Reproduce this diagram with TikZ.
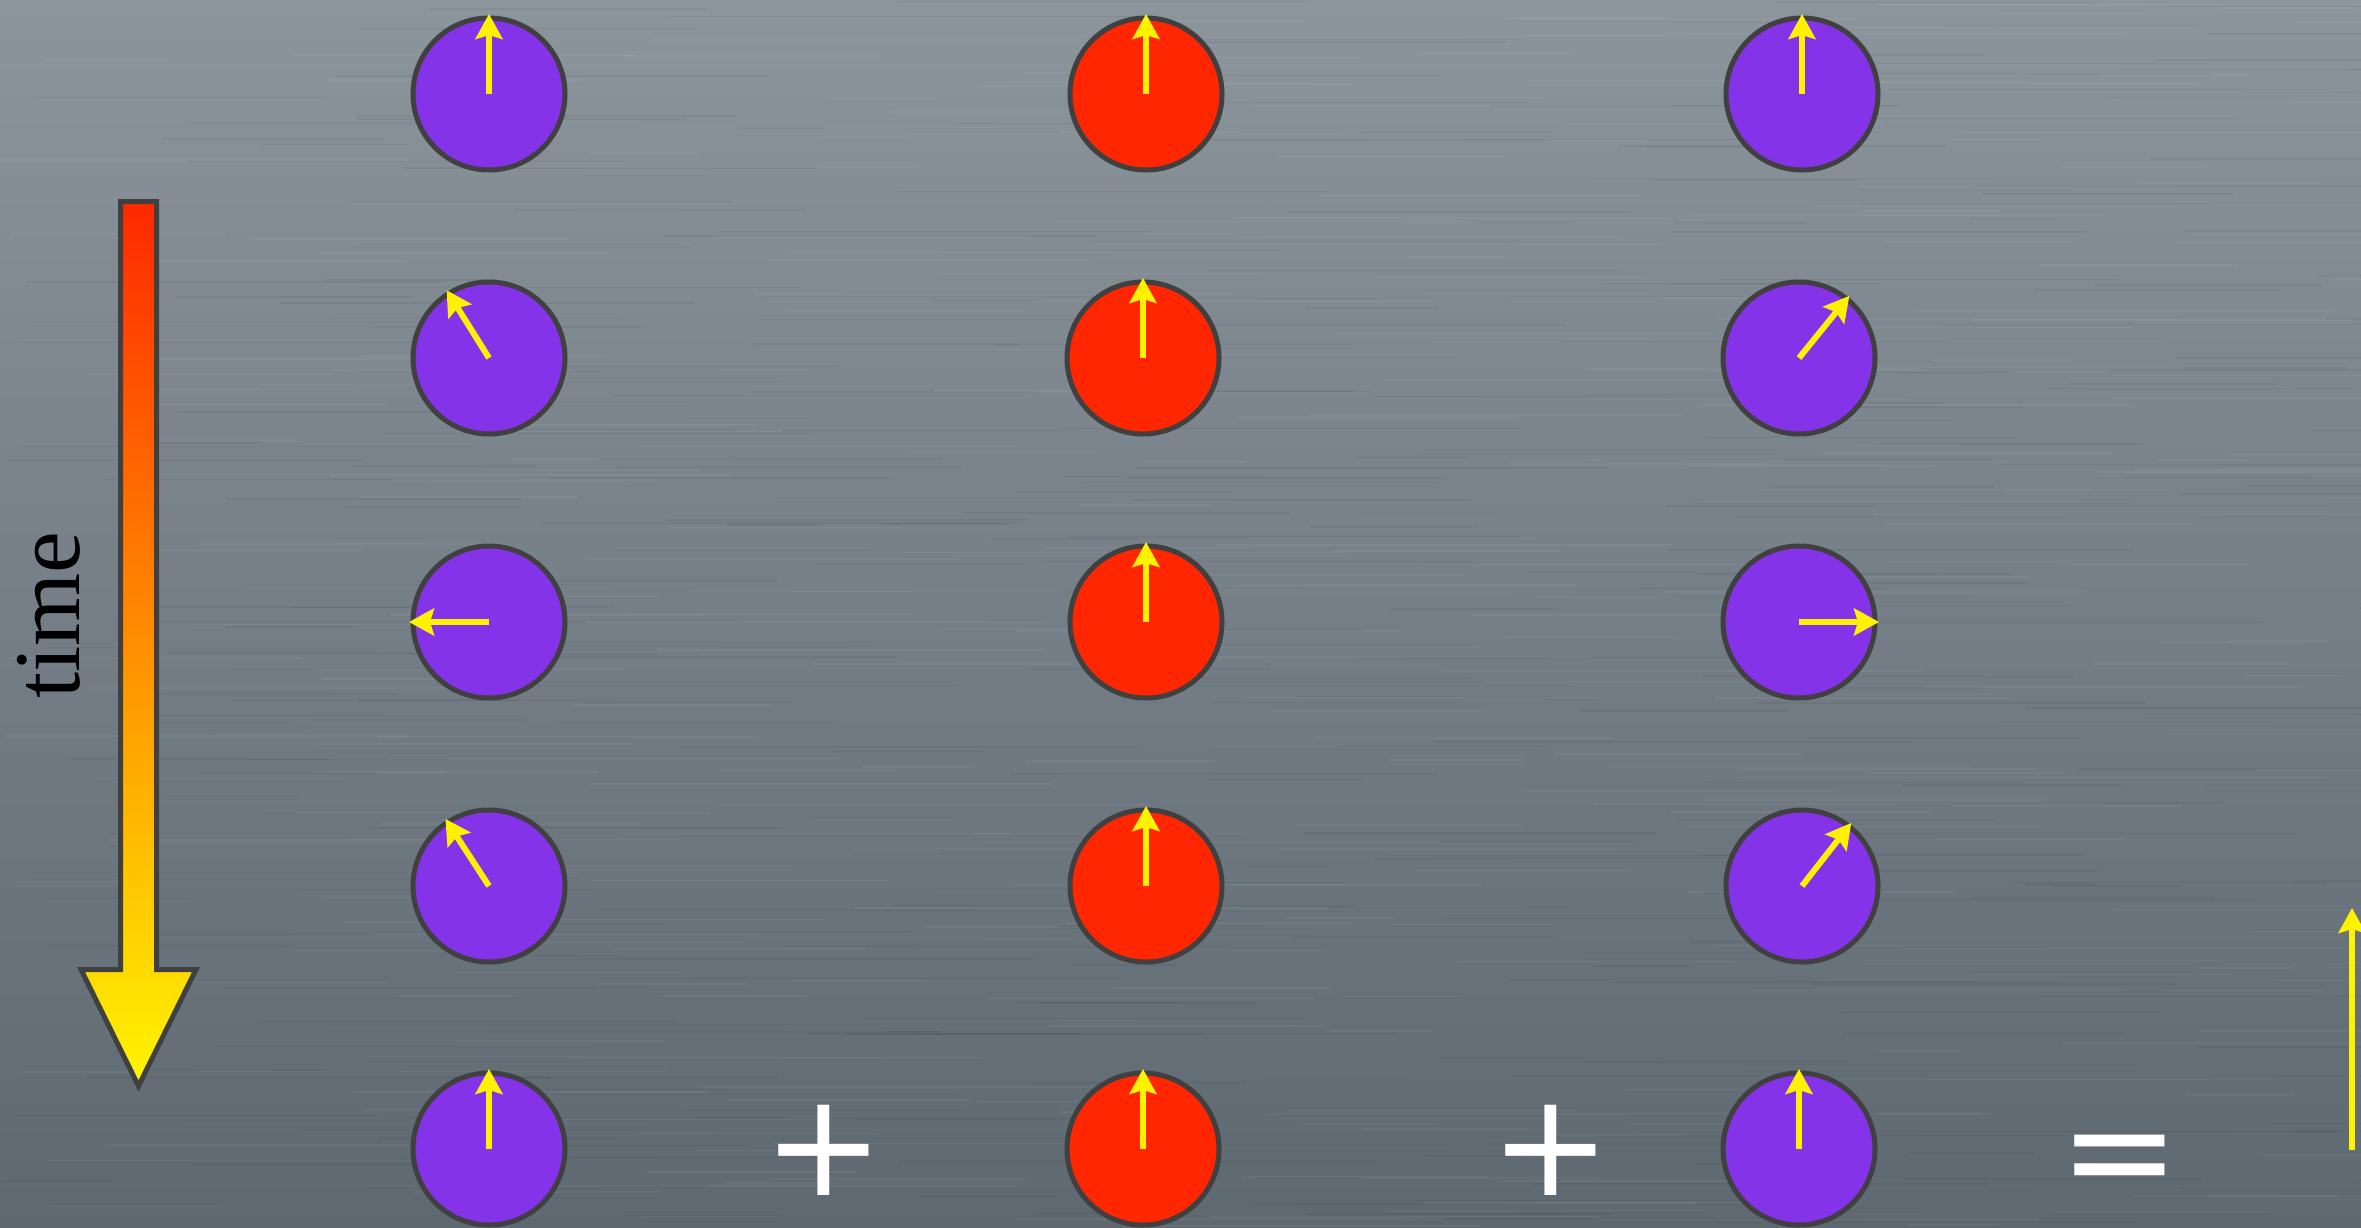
\documentclass[tikz,border=0pt]{standalone}
\usepackage{fontspec}
\setmainfont{Liberation Serif}
\newfontfamily\symfont{DejaVu Sans}
\usetikzlibrary{arrows.meta}
\definecolor{bgtop}{RGB}{140,149,156}
\definecolor{bgbot}{RGB}{94,104,113}
\definecolor{purp}{RGB}{133,51,232}
\definecolor{redd}{RGB}{255,38,0}
\definecolor{yel}{RGB}{255,242,0}
\definecolor{rim}{RGB}{64,64,64}
\definecolor{tred}{RGB}{255,40,0}
\definecolor{tyel}{RGB}{255,245,0}
\begin{document}
\begin{tikzpicture}[x=1pt,y=-1pt,
  disk/.style={circle,draw=rim,line width=5pt,minimum size=152pt,inner sep=0pt,outer sep=0pt},
  pdisk/.style={disk,fill=purp},
  rdisk/.style={disk,fill=redd},
  spin/.style={draw=yel,line width=6pt,-{Stealth[length=25pt,width=27pt,inset=4pt]}},
  sym/.style={text=white,font=\symfont\fontsize{144}{144}\selectfont,inner sep=0pt,outer sep=0pt},
  grain/.style={line width=1.5pt,opacity=0.05},
  timebar/.style={draw=rim,line width=5pt,line join=miter,top color=tred,bottom color=tyel}]
\useasboundingbox (0,0) rectangle (2361,1227);
\shade[top color=bgtop,bottom color=bgbot] (0,0) rectangle (2361,1227);
% brushed-metal grain
\pgfmathsetseed{7}
\begin{scope}
\clip (0,0) rectangle (2361,1227);
\foreach \i in {1,...,350}{
  \pgfmathsetmacro\xx{rnd*2361}
  \pgfmathsetmacro\yy{rnd*1227}
  \pgfmathsetmacro\ll{80+rnd*400}
  \draw[grain,white] (\xx,\yy) -- ++(\ll,0);
  \pgfmathsetmacro\xb{rnd*2361}
  \pgfmathsetmacro\yb{rnd*1227}
  \pgfmathsetmacro\lb{80+rnd*400}
  \draw[grain,black] (\xb,\yb) -- ++(\lb,0);
}
\end{scope}
% time arrow
\draw[timebar] (120.5,201.5) -- (156.5,201.5) -- (156.5,969.5) -- (196,969.5)
  -- (138.5,1086) -- (81,969.5) -- (120.5,969.5) -- cycle;
\node[rotate=90,font=\fontsize{94}{94}\selectfont,inner sep=0pt] (time) at (49,615) {time};
% disks with spins
\foreach \n/\s/\x/\y/\a in {a1/pdisk/489/94/90, a2/pdisk/489/358/122, a3/pdisk/489/622/180,
    a4/pdisk/489/886/123, a5/pdisk/489/1149/90,
    b1/rdisk/1146/94/90, b2/rdisk/1143/358/90, b3/rdisk/1146/622/90,
    b4/rdisk/1146/886/90, b5/rdisk/1143/1149/90,
    c1/pdisk/1802/94/90, c2/pdisk/1799/358/51, c3/pdisk/1799/622/0,
    c4/pdisk/1802/886/52, c5/pdisk/1799/1149/90}{
  \node[\s] (\n) at (\x,\y) {};
  \coordinate (t\n) at ([shift={(\a:80pt)}]\n.center);
  \draw[spin] (\n.center) -- (t\n);
}
% operators
\node[sym] (plus1) at (824,1150) {+};
\node[sym] (plus2) at (1551,1150) {+};
\node[sym] (eq) at (2120,1200) {\smash{=}};
% resulting spin
\coordinate (r0) at (2352,1150);
\coordinate (r1) at (2352,908);
\draw[spin] (r0) -- (r1);
\end{tikzpicture}
\end{document}
